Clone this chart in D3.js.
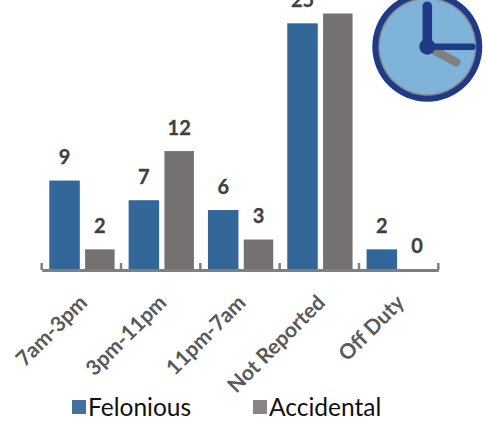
<!DOCTYPE html>
<html>
<head>
<meta charset="utf-8">
<script src="https://cdn.jsdelivr.net/npm/d3@7"></script>
<style>
  html, body { margin: 0; padding: 0; background: #fff; }
  svg { display: block; font-family: Lato, "Open Sans", sans-serif; }
</style>
</head>
<body>
<div id="chart"></div>
<script>
const width = 487;
const height = 424;

const categories = ["7am-3pm", "3pm-11pm", "11pm-7am", "Not Reported", "Off Duty"];
const felonious = [9, 7, 6, 25, 2];
const accidental = [2, 12, 3, 26, 0];
const seriesNames = ["Felonious", "Accidental"];

const blue = "#336699";
const grey = "#767171";

const svg = d3.select("#chart").append("svg")
  .attr("width", width)
  .attr("height", height);

const x = d3.scaleBand().domain(categories).range([41.7, 438.3]);
const y = d3.scaleLinear().domain([0, 26]).range([269, 13.5]);

// felonious bar sits left of centre, accidental right
const barW = [30.5, 29.5];
const offsets = [7.6, 43.4];

[felonious, accidental].forEach((values, s) => {
  const col = s == 0 ? blue : grey;
  const g = svg.append("g");

  g.selectAll("rect")
    .data(values)
    .join("rect")
    .attr("x", (d, i) => x(categories[i]) + offsets[s])
    .attr("y", d => y(d))
    .attr("width", barW[s])
    .attr("height", d => y(0) - y(d))
    .attr("fill", col);

  g.selectAll("text")
    .data(values)
    .join("text")
    .attr("x", (d, i) => x(categories[i]) + offsets[s] + barW[s] / 2)
    .attr("y", d => y(d) - 16.5)
    .attr("text-anchor", "middle")
    .attr("font-size", 20)
    .attr("font-weight", 700)
    .attr("fill", "#404040")
    .attr("stroke", "#404040")
    .attr("stroke-width", 0.3)
    .text(d => d);
});

// axis line with the upward ticks
const axis = d3.axisBottom(x).tickSize(0).tickFormat("");
const axisG = svg.append("g").attr("transform", `translate(0,${y(0) + 1})`).call(axis);
axisG.select(".domain").attr("stroke", "#7f7f7f").attr("stroke-width", 3);

const edges = categories.map(c => x(c)).concat([x.range()[1]]);
svg.append("g").selectAll("line")
  .data(edges)
  .join("line")
  .attr("x1", d => d)
  .attr("x2", d => d)
  .attr("y1", y(0) + 1)
  .attr("y2", y(0) - 6)
  .attr("stroke", "#7f7f7f")
  .attr("stroke-width", 2.5);

svg.append("g").selectAll("text")
  .data(categories)
  .join("text")
  .attr("text-anchor", "end")
  .attr("font-size", 21)
  .attr("font-weight", 700)
  .attr("fill", "#595959")
  .attr("transform", d => `translate(${x(d) + x.bandwidth() / 2 + 7},${y(0) + 35}) rotate(-45)`)
  .text(d => d);

// legend
const legend = svg.append("g");
const legendX = [72, 253];
seriesNames.forEach((name, i) => {
  legend.append("rect")
    .attr("x", legendX[i])
    .attr("y", 400)
    .attr("width", 14)
    .attr("height", 14)
    .attr("fill", i == 0 ? "#44709f" : "#868686");
  legend.append("text")
    .attr("x", legendX[i] + 16)
    .attr("y", 415.5)
    .attr("font-size", 24.5)
    .attr("fill", "#111")
    .text(name);
});

// clock icon
const clock = svg.append("g").attr("transform", "translate(427.3,46.7)");
clock.append("circle").attr("r", 55).attr("fill", "#1f3a87");
clock.append("circle").attr("r", 49).attr("fill", "#8a8a8a");
clock.append("circle").attr("r", 47.5).attr("fill", "#7fb3d9");
clock.append("line")
  .attr("x1", 0).attr("y1", 0).attr("x2", 29).attr("y2", 15.5)
  .attr("stroke", "#808080").attr("stroke-width", 8.5).attr("stroke-linecap", "round");
clock.append("line")
  .attr("x1", 0).attr("y1", 0).attr("x2", 0).attr("y2", -40.5)
  .attr("stroke", "#1f3a87").attr("stroke-width", 9.5).attr("stroke-linecap", "round");
clock.append("line")
  .attr("x1", 0).attr("y1", 0).attr("x2", 45).attr("y2", 0)
  .attr("stroke", "#1f3a87").attr("stroke-width", 6.5).attr("stroke-linecap", "round");
clock.append("circle").attr("r", 8).attr("fill", "#1f3a87");
</script>
</body>
</html>
